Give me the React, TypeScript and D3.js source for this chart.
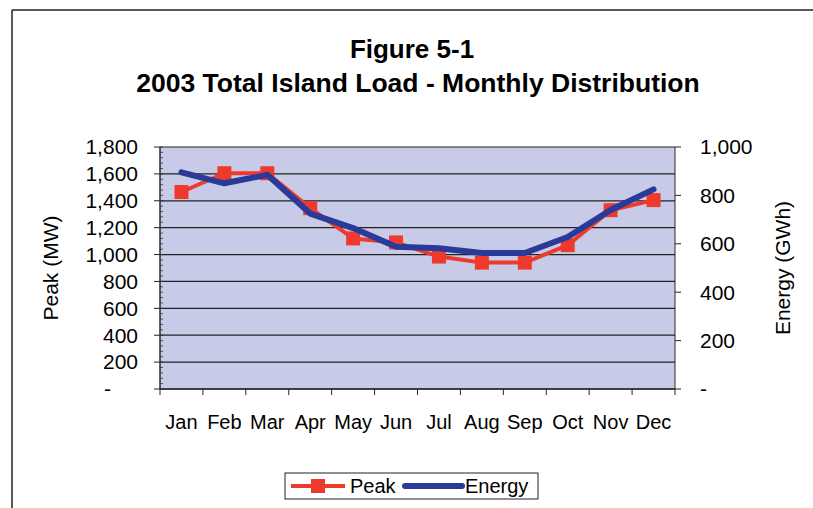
import * as d3 from 'd3';

const months = ['Jan', 'Feb', 'Mar', 'Apr', 'May', 'Jun', 'Jul', 'Aug', 'Sep', 'Oct', 'Nov', 'Dec'];
const peakMW = [1465, 1605, 1605, 1345, 1120, 1090, 985, 940, 940, 1070, 1330, 1405];
const energyGWh = [895, 850, 885, 725, 665, 588, 582, 562, 562, 628, 740, 825];
const peakTicks = [0, 200, 400, 600, 800, 1000, 1200, 1400, 1600, 1800];
const energyTicks = [0, 200, 400, 600, 800, 1000];

const W = 813;
const H = 508;
const plot = { left: 160, right: 675, top: 147, bottom: 389 };
const RED = '#ee3a2c';
const BLUE = '#2a3a98';
const FONT = 'Liberation Sans, Arial, sans-serif';

const fmt = (v: number) => (v === 0 ? '-' : d3.format(',')(v));

export default function App() {
  const x = d3.scaleBand<string>().domain(months).range([plot.left, plot.right]);
  const yL = d3.scaleLinear().domain([0, 1800]).range([plot.bottom, plot.top]);
  const yR = d3.scaleLinear().domain([0, 1000]).range([plot.bottom, plot.top]);
  const cx = (m: string) => (x(m) ?? 0) + x.bandwidth() / 2;

  const peakLine = d3.line<number>().x((_, i) => cx(months[i])).y(d => yL(d));
  const energyLine = d3.line<number>().x((_, i) => cx(months[i])).y(d => yR(d));

  // minor ticks on left axis, every 40 MW
  const minor = d3.range(0, 1801, 40);

  return (
    <svg width={W} height={H} style={{ position: 'absolute', left: 0, top: 0, background: '#fff' }} fontFamily={FONT}>
      {/* outer frame */}
      <line x1={12} y1={10} x2={W} y2={10} stroke="#222" strokeWidth={1.5} />
      <line x1={12} y1={10} x2={12} y2={H} stroke="#222" strokeWidth={1.5} />

      <text x={412} y={58} textAnchor="middle" fontSize={26} fontWeight="bold">Figure 5-1</text>
      <text x={418} y={92} textAnchor="middle" fontSize={26.5} fontWeight="bold">2003 Total Island Load - Monthly Distribution</text>

      <rect x={plot.left} y={plot.top} width={plot.right - plot.left} height={plot.bottom - plot.top} fill="#c8cbe7" />

      {peakTicks.map(t => (
        <line key={'g' + t} x1={plot.left} x2={plot.right} y1={yL(t)} y2={yL(t)} stroke="#222" strokeWidth={1.2} />
      ))}
      <line x1={plot.right} x2={plot.right} y1={plot.top} y2={plot.bottom} stroke="#2a2a2a" strokeWidth={1} />
      <line x1={plot.left} x2={plot.left} y1={plot.top} y2={plot.bottom} stroke="#2a2a2a" strokeWidth={1.5} />
      <line x1={plot.left} x2={plot.right} y1={plot.bottom} y2={plot.bottom} stroke="#2a2a2a" strokeWidth={1.5} />

      {minor.map(t => (
        <line key={'m' + t} x1={plot.left} x2={plot.left + 3} y1={yL(t)} y2={yL(t)} stroke="#333" strokeWidth={0.8} />
      ))}
      {peakTicks.map(t => (
        <g key={'l' + t}>
          <line x1={plot.left - 6} x2={plot.left} y1={yL(t)} y2={yL(t)} stroke="#222" />
          <text x={t === 0 ? 111 : 138} y={yL(t)} dy="0.35em" textAnchor="end" fontSize={21}>{fmt(t)}</text>
        </g>
      ))}
      {energyTicks.map(t => (
        <g key={'r' + t}>
          <line x1={plot.right} x2={plot.right + 6} y1={yR(t)} y2={yR(t)} stroke="#222" />
          <text x={700} y={yR(t)} dy="0.35em" textAnchor="start" fontSize={21}>{fmt(t)}</text>
        </g>
      ))}
      {[...months.map(m => x(m) ?? 0), plot.right].map((v, i) => (
        <line key={'x' + i} x1={v} x2={v} y1={plot.bottom} y2={plot.bottom + 6} stroke="#222" />
      ))}
      {months.map(m => (
        <text key={m} x={cx(m)} y={429} textAnchor="middle" fontSize={20}>{m}</text>
      ))}

      <text transform={`translate(58,${(plot.top + plot.bottom) / 2}) rotate(-90)`} textAnchor="middle" fontSize={21}>Peak (MW)</text>
      <text transform={`translate(790,${(plot.top + plot.bottom) / 2}) rotate(-90)`} textAnchor="middle" fontSize={21}>Energy (GWh)</text>

      {/* Peak series */}
      <path d={peakLine(peakMW) ?? ''} fill="none" stroke={RED} strokeWidth={4} strokeLinejoin="round" />
      {peakMW.map((v, i) => (
        <rect key={'p' + i} x={cx(months[i]) - 7} y={yL(v) - 7} width={14} height={14} fill={RED} />
      ))}
      {/* Energy series */}
      <path d={energyLine(energyGWh) ?? ''} fill="none" stroke={BLUE} strokeWidth={6} strokeLinejoin="round" strokeLinecap="round" />

      {/* legend */}
      <rect x={285} y={473} width={253} height={26} fill="#fff" stroke="#222" strokeWidth={1} />
      <line x1={291} x2={345} y1={486} y2={486} stroke={RED} strokeWidth={4} />
      <rect x={311} y={479} width={14} height={14} fill={RED} />
      <text x={350} y={486} dy="0.35em" fontSize={20}>Peak</text>
      <line x1={405} x2={462} y1={486} y2={486} stroke={BLUE} strokeWidth={6} strokeLinecap="round" />
      <text x={465} y={486} dy="0.35em" fontSize={20}>Energy</text>
    </svg>
  );
}
